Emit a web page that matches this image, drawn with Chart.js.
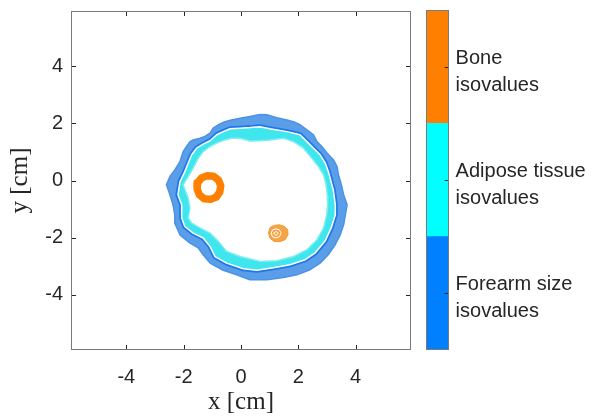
<!DOCTYPE html>
<html>
<head>
<meta charset="utf-8">
<script src="https://cdn.jsdelivr.net/npm/chart.js@4/dist/chart.umd.min.js"></script>
<style>
  body { margin: 0; background: #fff; }
  #wrap { position: relative; width: 595px; height: 416px; }
  #wrap canvas { position: absolute; top: 0; }
</style>
</head>
<body>
<div id="wrap">
  <canvas id="chart" width="595" height="416" style="left:0"></canvas>
  <canvas id="cbar" width="175" height="416" style="left:420px"></canvas>
</div>
<script>
// Forearm cross-section isolines, values in cm.
const AXIS_MIN = -5.93, AXIS_MAX = 5.93;
const X_TICKS = [-4, -2, 0, 2, 4];
const Y_TICKS = [-4, -2, 0, 2, 4];

// outer edge of the forearm-size band
const FOREARM_OUTER = [
  [-2.60, -0.15], [-2.48, 0.14], [-2.31, 0.37], [-2.13, 0.66], [-2.02, 1.01], [-1.90, 1.19],
  [-1.78, 1.36], [-1.67, 1.42], [-1.43, 1.48], [-1.26, 1.54], [-1.08, 1.66], [-0.97, 1.83],
  [-0.79, 1.95], [-0.56, 2.06], [-0.33, 2.12], [-0.03, 2.18], [0.31, 2.24], [0.66, 2.31],
  [0.90, 2.30], [1.25, 2.20], [1.60, 2.12], [1.83, 2.06], [2.06, 1.95], [2.30, 1.77],
  [2.53, 1.60], [2.65, 1.36], [2.82, 1.19], [3.00, 0.96], [3.23, 0.72], [3.35, 0.49],
  [3.40, 0.20], [3.50, -0.15], [3.58, -0.50], [3.70, -0.85], [3.64, -1.20], [3.58, -1.55],
  [3.46, -1.90], [3.29, -2.24], [3.05, -2.59], [2.76, -2.89], [2.41, -3.12], [1.95, -3.30],
  [1.48, -3.39], [0.90, -3.47], [0.31, -3.47], [-0.15, -3.30], [-0.67, -3.12], [-1.08, -2.89],
  [-1.32, -2.60], [-1.49, -2.36], [-1.78, -2.19], [-2.13, -1.90], [-2.31, -1.49], [-2.31, -1.20],
  [-2.37, -0.85], [-2.48, -0.50]
];
// boundary between forearm-size band and adipose band (white line)
const ADIPOSE_OUTER = [
  [-2.20, -0.50], [-2.13, -0.05], [-1.96, 0.31], [-1.84, 0.61], [-1.72, 0.90], [-1.55, 1.13],
  [-1.32, 1.27], [-1.08, 1.39], [-0.85, 1.60], [-0.62, 1.71], [-0.38, 1.81], [-0.03, 1.83],
  [0.31, 1.85], [0.66, 1.88], [1.01, 1.81], [1.60, 1.71], [2.06, 1.60], [2.30, 1.36],
  [2.53, 1.13], [2.76, 0.90], [2.94, 0.61], [3.05, 0.31], [3.14, -0.03], [3.22, -0.33],
  [3.29, -0.85], [3.29, -1.20], [3.15, -1.65], [2.94, -2.11], [2.59, -2.53], [2.24, -2.77],
  [1.71, -2.95], [1.13, -3.05], [0.55, -3.14], [0.08, -3.09], [-0.50, -2.89], [-0.91, -2.66],
  [-1.08, -2.31], [-1.32, -2.01], [-1.67, -1.84], [-1.96, -1.61], [-2.07, -1.31], [-2.07, -0.85]
];
// inner edge of the adipose band
const ADIPOSE_INNER = [
  [-2.02, -0.15], [-1.84, 0.14], [-1.67, 0.43], [-1.49, 0.78], [-1.32, 1.01], [-1.08, 1.19],
  [-0.85, 1.31], [-0.56, 1.42], [-0.33, 1.48], [-0.03, 1.48], [0.31, 1.38], [0.66, 1.39],
  [1.01, 1.42], [1.48, 1.48], [1.83, 1.36], [2.18, 1.13], [2.47, 0.78], [2.70, 0.49],
  [2.88, 0.20], [2.97, -0.15], [3.01, -0.50], [3.02, -0.85], [2.99, -1.20], [2.88, -1.66],
  [2.65, -2.07], [2.30, -2.42], [1.83, -2.66], [1.25, -2.81], [0.66, -2.83], [0.43, -2.77],
  [-0.03, -2.66], [-0.50, -2.48], [-0.79, -2.13], [-1.08, -1.84], [-1.43, -1.66], [-1.72, -1.49],
  [-1.84, -1.31], [-1.78, -0.97], [-1.84, -0.62]
];
// radius bone ring (mid line of the ring)
const BONE_RADIUS = [
  [-0.71, -0.18], [-0.79, 0.02], [-0.96, 0.15], [-1.18, 0.17], [-1.38, 0.09], [-1.51, -0.08],
  [-1.53, -0.30], [-1.45, -0.50], [-1.28, -0.64], [-1.06, -0.66], [-0.86, -0.58], [-0.74, -0.40]
];
// ulna: outer isoline and two inner isolines
const BONE_ULNA = [
  [0.96, -1.83], [1.01, -1.65], [1.15, -1.57], [1.33, -1.55], [1.50, -1.60], [1.63, -1.72],
  [1.64, -1.90], [1.54, -2.07], [1.36, -2.14], [1.15, -2.13], [1.01, -2.02]
];
const BONE_ULNA_MID = [
  [1.05, -1.85], [1.10, -1.73], [1.22, -1.69], [1.35, -1.74], [1.40, -1.85], [1.34, -1.96],
  [1.22, -2.01], [1.10, -1.97]
];
const BONE_ULNA_CORE = [[1.14, -1.85], [1.22, -1.78], [1.30, -1.85], [1.22, -1.92]];

// colorbar
const CB_VALUES = [1, 1, 1];
const CB_COLORS = ['#0080ff', '#00ffff', '#ff8000'];
const CB_TICKS = [0.5, 1.5, 2.5];
const CB_LABELS = [['Forearm size', 'isovalues'], ['Adipose tissue', 'isovalues'], ['Bone', 'isovalues']];

const FONT = 'Liberation Sans, Arial, Helvetica, sans-serif';
const SERIF = 'Liberation Serif, Times New Roman, serif';
const TXT = '#262626';

const closed = pts => [...pts, pts[0]].map(([x, y]) => ({ x, y }));

function contour(pts, opts) {
  return Object.assign({
    data: closed(pts),
    showLine: true,
    pointRadius: 0,
    tension: 0,
    fill: false,
    borderWidth: 1,
    borderCapStyle: 'round',
    borderJoinStyle: 'round',
  }, opts);
}

const datasets = [
  contour(FOREARM_OUTER, { order: 9, fill: 'shape', backgroundColor: '#5a9ee9', borderColor: '#4b93e6', borderWidth: 1.5 }),
  contour(ADIPOSE_OUTER, { order: 8, borderColor: '#1f78e8', borderWidth: 5 }),
  contour(ADIPOSE_OUTER, { order: 7, fill: 'shape', backgroundColor: '#3fe6ee', borderColor: 'rgba(0,0,0,0)' }),
  contour(ADIPOSE_INNER, { order: 6, fill: 'shape', backgroundColor: '#ffffff', borderColor: '#7feeee', borderWidth: 1.5 }),
  contour(ADIPOSE_OUTER, { order: 5, borderColor: '#ffffff', borderWidth: 1.5 }),
  contour(BONE_RADIUS, { order: 4, borderColor: '#ff8000', borderWidth: 7.5 }),
  contour(BONE_ULNA, { order: 3, fill: 'shape', backgroundColor: '#f5a548', borderColor: '#f39a35', borderWidth: 1 }),
  contour(BONE_ULNA_MID, { order: 2, borderColor: '#ffffff', borderWidth: 1 }),
  contour(BONE_ULNA_CORE, { order: 1, borderColor: '#ffffff', borderWidth: 1 }),
];

const boxPlugin = {
  id: 'box',
  afterDraw(chart) {
    const { ctx, chartArea: a } = chart;
    const { x, y } = chart.scales;
    ctx.save();
    ctx.strokeStyle = TXT;
    ctx.lineWidth = 1;
    ctx.beginPath();
    X_TICKS.forEach(v => {
      const px = Math.round(x.getPixelForValue(v)) + 0.5;
      ctx.moveTo(px, a.bottom); ctx.lineTo(px, a.bottom - 5);
      ctx.moveTo(px, a.top); ctx.lineTo(px, a.top + 5);
    });
    Y_TICKS.forEach(v => {
      const py = Math.round(y.getPixelForValue(v)) + 0.5;
      ctx.moveTo(a.left, py); ctx.lineTo(a.left + 5, py);
      ctx.moveTo(a.right, py); ctx.lineTo(a.right - 5, py);
    });
    ctx.stroke();
    ctx.strokeStyle = '#7a7a7a';
    ctx.strokeRect(Math.round(a.left) + 0.5, Math.round(a.top) + 0.5, Math.round(a.width) - 1, Math.round(a.height) - 1);
    ctx.restore();
  }
};

const noPad = s => { s.paddingTop = 0; s.paddingBottom = 0; s.paddingLeft = 0; s.paddingRight = 0; };

new Chart(document.getElementById('chart'), {
  type: 'scatter',
  data: { datasets },
  options: {
    responsive: false,
    animation: false,
    layout: { padding: { left: 0, right: 184, top: 11, bottom: 0 } },
    plugins: { legend: { display: false }, tooltip: { enabled: false } },
    scales: {
      x: {
        type: 'linear', min: AXIS_MIN, max: AXIS_MAX,
        afterBuildTicks: s => { s.ticks = X_TICKS.map(v => ({ value: v })); },
        afterFit: s => { s.height = 66; noPad(s); },
        grid: { display: false, drawTicks: false }, border: { display: false },
        ticks: { color: TXT, padding: 15, font: { family: FONT, size: 20 } },
        title: { display: true, text: 'x [cm]', color: TXT, padding: { top: 0, bottom: 1 }, font: { family: SERIF, size: 25, lineHeight: 1 } }
      },
      y: {
        type: 'linear', min: AXIS_MIN, max: AXIS_MAX,
        afterBuildTicks: s => { s.ticks = Y_TICKS.map(v => ({ value: v })); },
        afterFit: s => { s.width = 71; noPad(s); },
        grid: { display: false, drawTicks: false }, border: { display: false },
        ticks: { color: TXT, padding: 8, font: { family: FONT, size: 20 } },
        title: { display: true, text: 'y [cm]', color: TXT, padding: { top: 8, bottom: 0 }, font: { family: SERIF, size: 25, lineHeight: 1 } }
      }
    }
  },
  plugins: [boxPlugin]
});

const cbarPlugin = {
  id: 'cbarFrame',
  afterDraw(chart) {
    const { ctx, chartArea: a } = chart;
    const y = chart.scales.y;
    ctx.save();
    ctx.strokeStyle = TXT;
    ctx.lineWidth = 1;
    ctx.beginPath();
    CB_TICKS.forEach(v => {
      const py = Math.round(y.getPixelForValue(v)) + 0.5;
      ctx.moveTo(a.right, py); ctx.lineTo(a.right - 4, py);
    });
    ctx.stroke();
    ctx.strokeStyle = '#7a7a7a';
    ctx.strokeRect(Math.round(a.left) + 0.5, Math.round(a.top) + 0.5, Math.round(a.width) - 1, Math.round(a.height) - 1);
    ctx.restore();
  }
};

new Chart(document.getElementById('cbar'), {
  type: 'bar',
  data: {
    labels: ['cb'],
    datasets: CB_VALUES.map((v, i) => ({
      data: [v], backgroundColor: CB_COLORS[i], borderWidth: 0,
      barPercentage: 1, categoryPercentage: 1
    }))
  },
  options: {
    responsive: false,
    animation: false,
    layout: { padding: { left: 6, right: 0, top: 10, bottom: 66 } },
    plugins: { legend: { display: false }, tooltip: { enabled: false } },
    scales: {
      x: { display: false, stacked: true },
      y: {
        stacked: true, position: 'right', min: 0, max: 3,
        afterBuildTicks: s => { s.ticks = CB_TICKS.map(v => ({ value: v })); },
        afterFit: s => { s.width = 175 - 6 - 22.6; noPad(s); },
        grid: { display: false, drawTicks: false }, border: { display: false },
        ticks: {
          color: TXT, padding: 7, labelOffset: 5,
          font: { family: FONT, size: 20, lineHeight: 1.35 },
          callback: (v, i) => CB_LABELS[i]
        }
      }
    }
  },
  plugins: [cbarPlugin]
});
</script>
</body>
</html>
